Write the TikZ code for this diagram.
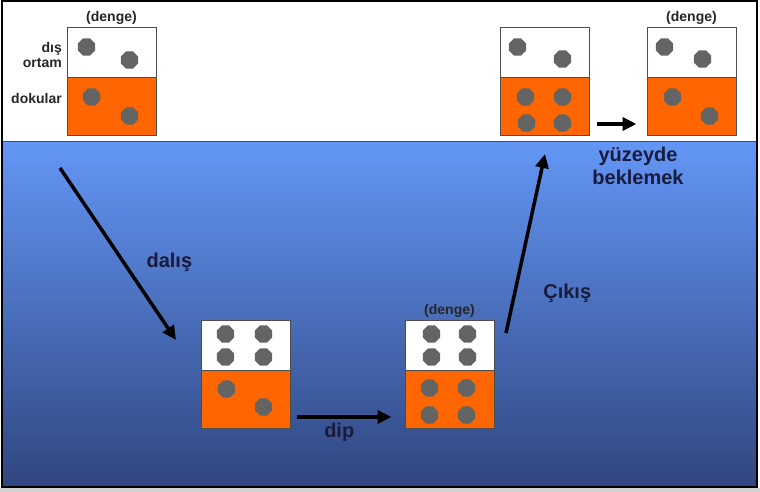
\documentclass[tikz,border=0pt]{standalone}
\usepackage{fontspec}
\setmainfont{Liberation Sans}
\usetikzlibrary{positioning,arrows.meta,calc,shapes.geometric}
\definecolor{cOrange}{HTML}{FF6600}
\definecolor{cDot}{HTML}{646464}
\definecolor{cEdge}{HTML}{4D4D4D}
\definecolor{cText}{HTML}{1A1A3C}
\definecolor{cSeaTop}{RGB}{99,150,245}
\definecolor{cSeaBot}{RGB}{48,70,128}
\tikzset{
  tank/.style={draw=cEdge,line width=1pt,fill=white,inner sep=0pt,
    minimum width=89pt,minimum height=108pt,
    path picture={
      \fill[cOrange] ($(path picture bounding box.north west)+(0,50)$)
        rectangle (path picture bounding box.south east);
      \draw[cEdge,line width=1pt] ($(path picture bounding box.north west)+(0,50)$)
        -- ($(path picture bounding box.north east)+(0,50)$);}},
  dot/.style={regular polygon,regular polygon sides=8,fill=cDot,
    minimum size=18.5pt,inner sep=0pt},
  lbl/.style={font=\bfseries\fontsize{20}{23}\selectfont,text=cText,
    align=center,inner sep=1pt},
  note/.style={font=\bfseries\fontsize{14}{15}\selectfont,text=black!85,
    align=right,inner sep=0.5pt},
  arrow/.style={-{Triangle[length=14pt,width=13pt]},line width=3.5pt,draw=black},
}
\begin{document}
\begin{tikzpicture}[x=1pt,y=-1pt]
  \useasboundingbox (0,0) rectangle (760,492);
  % surface and sea
  \fill[white] (0,0) rectangle (760,492);
  \fill[black!18] (0,488) rectangle (760,492);
  \shade[top color=cSeaTop,bottom color=cSeaBot] (2,142) rectangle (757,487);
  \draw[cEdge,line width=1pt] (2,142) -- (757,142);
  \draw[black,line width=1.5pt] (2,1) rectangle (757,487);

  % tanks
  \node[tank] (b1) at (111.5,81.5) {};
  \node[tank] (b2) at (544.5,81.5) {};
  \node[tank] (b3) at (691.5,81.5) {};
  \node[tank] (b4) at (245.5,374.5) {};
  \node[tank] (b5) at (449.5,374.5) {};

  % gas particles
  \foreach \dx/\dy [count=\i] in {20/20,63/33,25/70,63/89}
    \node[dot] (b1-d\i) at ($(b1.north west)+(\dx,\dy)$) {};
  \foreach \dx/\dy [count=\i] in {18/20,63/32,26/70,63/70,27/96,63/96}
    \node[dot] (b2-d\i) at ($(b2.north west)+(\dx,\dy)$) {};
  \foreach \dx/\dy [count=\i] in {18/20,56/32,26/70,63/89}
    \node[dot] (b3-d\i) at ($(b3.north west)+(\dx,\dy)$) {};
  \foreach \dx/\dy [count=\i] in {25/14,63/14,25/37,63/37,26/69,63/87}
    \node[dot] (b4-d\i) at ($(b4.north west)+(\dx,\dy)$) {};
  \foreach \dx/\dy [count=\i] in {27/14,63/14,27/37,63/37,25/68,62/68,25/95,62/95}
    \node[dot] (b5-d\i) at ($(b5.north west)+(\dx,\dy)$) {};

  % notes
  \node[note,anchor=east] (outer) at ($(b1.north west)+(-4,28)$) {dış\\ortam};
  \node[note,anchor=east] (tissue) at ($(b1.north west)+(-4,71)$) {dokular};
  \node[note,above=2pt of b1] (eq1) {(denge)};
  \node[note,above=2pt of b3] (eq3) {(denge)};
  \node[note,above=2pt of b5] (eq5) {(denge)};

  % dive profile
  \coordinate (dive-s) at (60,168);
  \coordinate (dive-e) at (176,340);
  \coordinate (up-s) at (506,333);
  \coordinate (up-e) at (545,154);
  \draw[arrow] (dive-s) -- (dive-e) node[lbl,pos=0.55,right=20pt] (dive) {dalış};
  \draw[arrow] ([shift={(6,42.5)}]b4.east) -- ([shift={(-13,42.5)}]b5.west)
    node[lbl,pos=0.45,below=3pt] (deep) {dip};
  \draw[arrow] (up-s) -- (up-e) node[lbl,pos=0.22,right=26pt] (ascent) {Çıkış};
  \draw[arrow] ([shift={(7,42.5)}]b2.east) -- ([shift={(-10,42.5)}]b3.west);
  \node[lbl] (wait) at (638,166) {yüzeyde\\beklemek};
\end{tikzpicture}
\end{document}
